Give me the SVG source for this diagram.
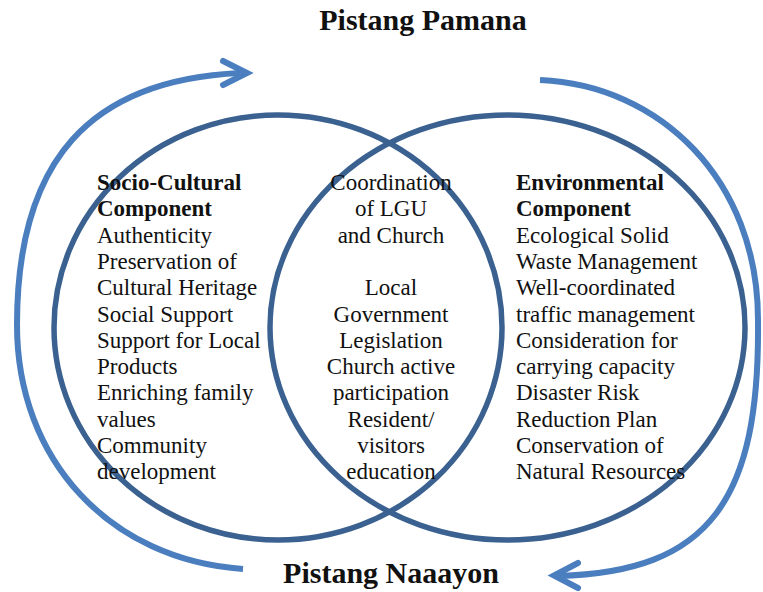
<svg xmlns="http://www.w3.org/2000/svg" width="763" height="592" viewBox="0 0 763 592">
<style>
.ring{fill:none;stroke:#3A6190;stroke-width:5.5}
.arc{fill:none;stroke:#4A7EBF;stroke-width:6;stroke-linecap:butt}
.head{fill:none;stroke:#4A7EBF;stroke-width:6;stroke-linecap:round;stroke-linejoin:miter}
text{font-family:"Liberation Serif","Times New Roman",serif;fill:#111}
.t{font-size:23px}
.b{font-weight:bold}
.title{font-size:30px;font-weight:bold;text-anchor:middle}
.c{text-anchor:middle}
</style>
<rect width="763" height="592" fill="#fff"/>
<g id="connectors">
<path class="arc" d="M243 569 C110 560 17 460 17 325 C17 160 90 80 240 73"/>
<polyline class="head" points="223,61 247,73 223,85"/>
<path class="arc" d="M540 80 C660 85 758 180 758 320 C760 500 710 572 558 576"/>
<polyline class="head" points="578,563 554,575.5 578,588"/>
</g>
<g id="circle-socio-cultural">
<ellipse class="ring" cx="278" cy="327.5" rx="224" ry="212.5"/>
</g>
<g id="circle-environmental">
<ellipse class="ring" cx="507.5" cy="327.5" rx="237.5" ry="212.5"/>
</g>
<g id="title-pamana"><text class="title" x="423" y="30">Pistang Pamana</text></g>
<g id="title-naaayon"><text class="title" x="391" y="583">Pistang Naaayon</text></g>
<g id="socio-cultural" class="t">
<text x="97" y="190" class="b">Socio-Cultural</text>
<text x="97" y="216.3" class="b">Component</text>
<text x="97" y="242.6">Authenticity</text>
<text x="97" y="268.9">Preservation of</text>
<text x="97" y="295.2">Cultural Heritage</text>
<text x="97" y="321.5">Social Support</text>
<text x="97" y="347.8">Support for Local</text>
<text x="97" y="374.1">Products</text>
<text x="97" y="400.4">Enriching family</text>
<text x="97" y="426.7">values</text>
<text x="97" y="453">Community</text>
<text x="97" y="479.3">development</text>
</g>
<g id="overlap" class="t">
<text class="c" x="391" y="190">Coordination</text>
<text class="c" x="391" y="216.3">of LGU</text>
<text class="c" x="391" y="242.6">and Church</text>
<text class="c" x="391" y="295.2">Local</text>
<text class="c" x="391" y="321.5">Government</text>
<text class="c" x="391" y="347.8">Legislation</text>
<text class="c" x="391" y="374.1">Church active</text>
<text class="c" x="391" y="400.4">participation</text>
<text class="c" x="391" y="426.7">Resident/</text>
<text class="c" x="391" y="453">visitors</text>
<text class="c" x="391" y="479.3">education</text>
</g>
<g id="environmental" class="t">
<text x="516" y="190" class="b">Environmental</text>
<text x="516" y="216.3" class="b">Component</text>
<text x="516" y="242.6">Ecological Solid</text>
<text x="516" y="268.9">Waste Management</text>
<text x="516" y="295.2">Well-coordinated</text>
<text x="516" y="321.5">traffic management</text>
<text x="516" y="347.8">Consideration for</text>
<text x="516" y="374.1">carrying capacity</text>
<text x="516" y="400.4">Disaster Risk</text>
<text x="516" y="426.7">Reduction Plan</text>
<text x="516" y="453">Conservation of</text>
<text x="516" y="479.3">Natural Resources</text>
</g>
</svg>
